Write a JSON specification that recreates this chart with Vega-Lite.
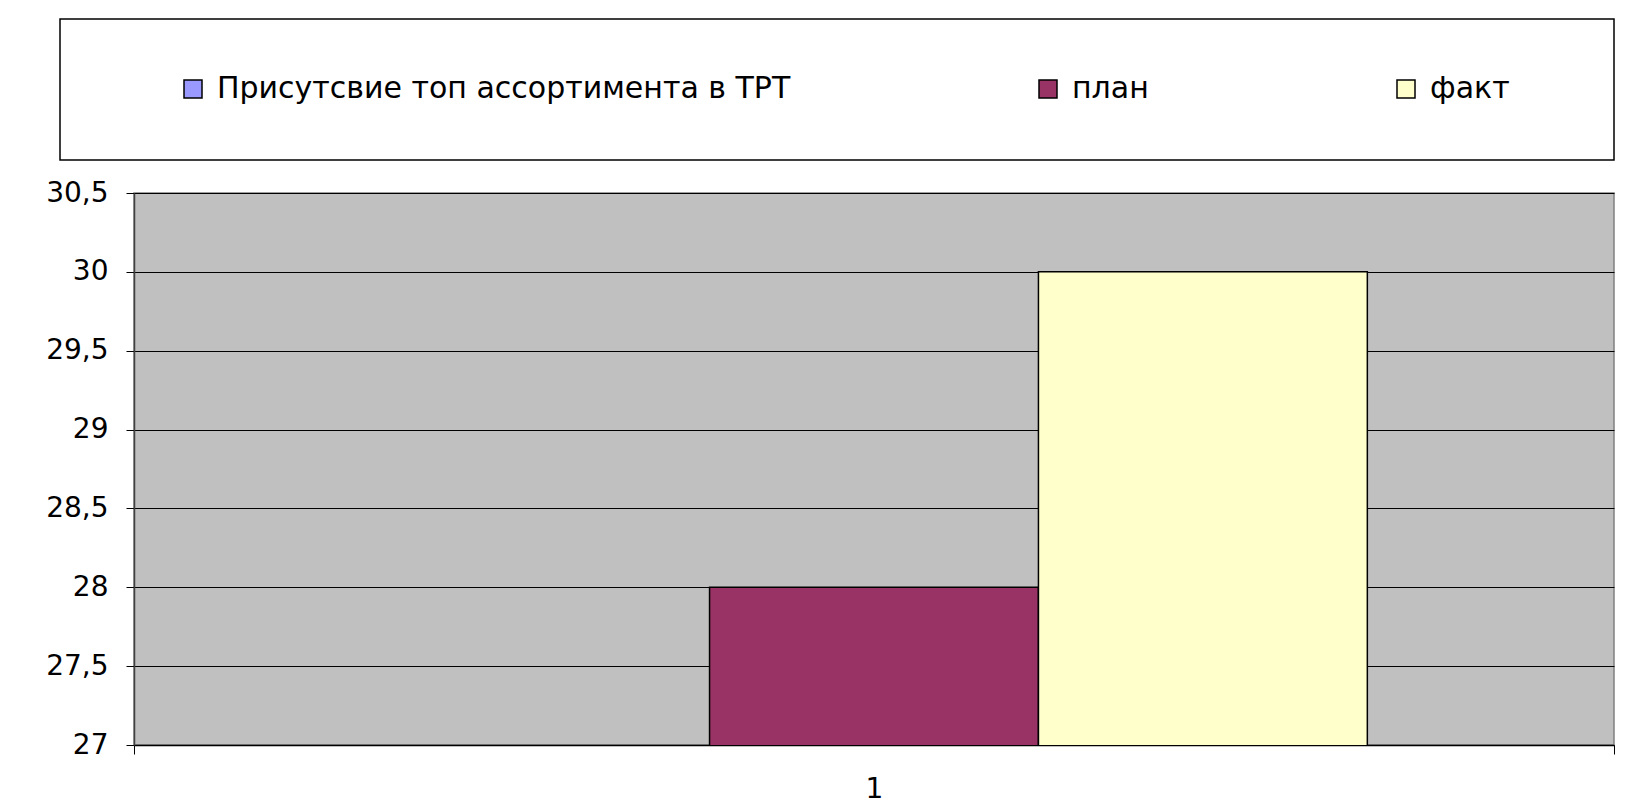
{
  "$schema": "https://vega.github.io/schema/vega-lite/v6.json",
  "background": "white",
  "padding": {"left": 45, "top": 18, "right": 17, "bottom": 0},
  "config": {"font": "DejaVu Sans", "legend": {"padding": 0}},
  "datasets": {
    "bars": [
      {"category": "1", "series": "план", "value": 28},
      {"category": "1", "series": "факт", "value": 30}
    ]
  },
  "spacing": 18,
  "vconcat": [
    {
      "width": 1554,
      "height": 141,
      "data": {"values": [{"k": "a"}]},
      "mark": {"type": "text", "text": ""},
      "encoding": {},
      "view": {"stroke": "black", "strokeWidth": 1.5, "fill": "white"}
    },
    {
      "spacing": 16,
      "hconcat": [
        {
          "width": 48,
          "height": 552,
          "data": {"name": "bars"},
          "mark": {"type": "text", "text": ""},
          "view": {"stroke": null},
          "encoding": {
            "y": {
              "field": "value",
              "type": "quantitative",
              "scale": {"domain": [27, 30.5], "nice": false, "zero": false},
              "axis": {
                "orient": "right",
                "title": null,
                "values": [27, 27.5, 28, 28.5, 29, 29.5, 30, 30.5],
                "labelExpr": "replace(toString(datum.value), '.', ',')",
                "labelFontSize": 28,
                "labelColor": "black",
                "labelAlign": "right",
                "labelPadding": 0,
                "ticks": false,
                "domain": false,
                "grid": false
              }
            }
          }
        },
        {
          "width": 1480,
          "height": 552,
          "data": {"name": "bars"},
          "mark": {"type": "bar", "stroke": "black", "strokeWidth": 1.5, "clip": true},
          "view": {"fill": "#C0C0C0", "stroke": "#808080", "strokeWidth": 1.5},
          "encoding": {
            "x": {
              "field": "category",
              "type": "nominal",
              "scale": {"paddingInner": 0, "paddingOuter": 0},
              "axis": {
                "title": null,
                "labelAngle": 0,
                "labelFontSize": 28,
                "labelColor": "black",
                "domainColor": "black",
                "domainWidth": 1.5,
                "tickColor": "black",
                "tickBand": "extent",
                "tickSize": 9,
                "labelPadding": 21
              }
            },
            "xOffset": {
              "field": "series",
              "type": "nominal",
              "scale": {
                "domain": ["Присутсвие топ ассортимента в ТРТ", "план", "факт"],
                "paddingOuter": 0.75,
                "paddingInner": 0
              }
            },
            "y": {
              "field": "value",
              "type": "quantitative",
              "scale": {"domain": [27, 30.5], "nice": false, "zero": false},
              "axis": {
                "title": null,
                "values": [27, 27.5, 28, 28.5, 29, 29.5, 30, 30.5],
                "labels": false,
                "tickSize": 8,
                "tickColor": "black",
                "domainColor": "#404040",
                "domainWidth": 1.5,
                "gridColor": "black",
                "gridWidth": 1,
                "gridOpacity": 1
              }
            },
            "color": {
              "field": "series",
              "type": "nominal",
              "scale": {
                "domain": ["Присутсвие топ ассортимента в ТРТ", "план", "факт"],
                "range": ["#9999FF", "#993366", "#FFFFCC"]
              },
              "legend": {
                "orient": "none",
                "legendX": 118,
                "legendY": 55,
                "direction": "horizontal",
                "title": null,
                "symbolType": "square",
                "symbolSize": 324,
                "symbolStrokeColor": "black",
                "symbolStrokeWidth": 1.5,
                "symbolOpacity": 1,
                "labelFontSize": 30,
                "labelColor": "black",
                "labelOffset": 9,
                "labelLimit": 0,
                "columnPadding": 242
              }
            }
          }
        }
      ]
    }
  ]
}
